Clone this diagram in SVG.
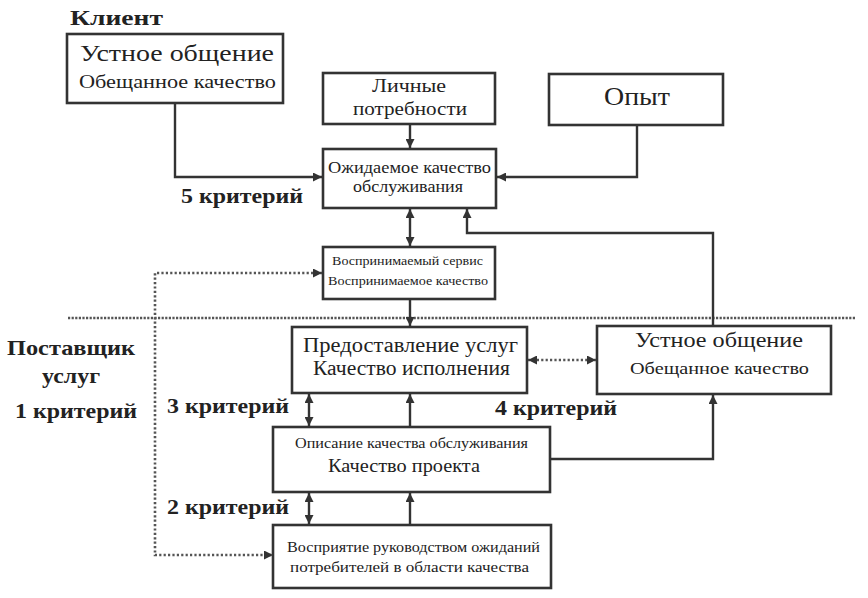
<svg xmlns="http://www.w3.org/2000/svg" width="868" height="598" viewBox="0 0 868 598" font-family="'Liberation Serif', 'DejaVu Serif', 'Times New Roman', serif">
<defs>
<style>
.box{fill:#fff;stroke:#333;stroke-width:2.6}
.ln{fill:none;stroke:#333;stroke-width:2.4}
.dot{fill:none;stroke:#555;stroke-width:2.6;stroke-dasharray:2.2 2.2}
.sep{fill:none;stroke:#555;stroke-width:2.6;stroke-dasharray:2.2 1.4}
text{font-family:'Liberation Serif','DejaVu Serif','Times New Roman',serif;fill:#222}
.b{font-weight:bold}
</style>
<marker id="ah" viewBox="0 0 10 10" refX="10" refY="5" markerWidth="9" markerHeight="9" markerUnits="userSpaceOnUse" orient="auto-start-reverse">
<path d="M0,0 L10,5 L0,10 z" fill="#333"/>
</marker>
<marker id="ahd" viewBox="0 0 10 10" refX="10" refY="5" markerWidth="9" markerHeight="9" markerUnits="userSpaceOnUse" orient="auto-start-reverse">
<path d="M0,0 L10,5 L0,10 z" fill="#333"/>
</marker>
</defs>
<rect width="868" height="598" fill="#fff"/>

<g id="labels">
<text class="b" x="70" y="25" font-size="22" textLength="93" lengthAdjust="spacingAndGlyphs">Клиент</text>
<text class="b" x="181" y="203" font-size="20" textLength="122" lengthAdjust="spacingAndGlyphs">5 критерий</text>
<text class="b" x="7" y="355" font-size="21" textLength="128" lengthAdjust="spacingAndGlyphs">Поставщик</text>
<text class="b" x="42" y="383" font-size="21" textLength="58" lengthAdjust="spacingAndGlyphs">услуг</text>
<text class="b" x="15" y="418" font-size="21" textLength="122" lengthAdjust="spacingAndGlyphs">1 критерий</text>
<text class="b" x="167" y="413" font-size="21" textLength="122" lengthAdjust="spacingAndGlyphs">3 критерий</text>
<text class="b" x="167" y="514" font-size="21" textLength="122" lengthAdjust="spacingAndGlyphs">2 критерий</text>
<text class="b" x="495" y="415" font-size="21" textLength="122" lengthAdjust="spacingAndGlyphs">4 критерий</text>
</g>

<g id="connectors">
<path class="sep" d="M68,318 H856"/>
<path class="ln" d="M175,103 V177 H322" marker-end="url(#ah)"/>
<path class="ln" d="M410,124 V148" marker-end="url(#ah)"/>
<path class="ln" d="M637,125 V177 H497" marker-end="url(#ah)"/>
<path class="ln" d="M410,209 V246" marker-start="url(#ah)" marker-end="url(#ah)"/>
<path class="ln" d="M713,326 V233 H467 V209" marker-end="url(#ah)"/>
<path class="ln" d="M410,300 V326" marker-end="url(#ah)"/>
<path class="ln" d="M309,394 V426" marker-start="url(#ah)" marker-end="url(#ah)"/>
<path class="ln" d="M410,427 V394" marker-end="url(#ah)"/>
<path class="ln" d="M309,493 V524" marker-start="url(#ah)" marker-end="url(#ah)"/>
<path class="ln" d="M410,525 V493" marker-end="url(#ah)"/>
<path class="ln" d="M551,459 H713 V395" marker-end="url(#ah)"/>
<path class="dot" d="M528,360 H596" marker-start="url(#ahd)" marker-end="url(#ahd)"/>
<path class="dot" d="M322,273 H155 V555 H273" marker-start="url(#ahd)" marker-end="url(#ahd)"/>
</g>

<g id="node-client-wom">
<rect class="box" x="67" y="34" width="216" height="69"/>
<text x="80" y="61" font-size="23" textLength="194" lengthAdjust="spacingAndGlyphs">Устное общение</text>
<text x="79" y="88" font-size="18" textLength="197" lengthAdjust="spacingAndGlyphs">Обещанное качество</text>
</g>

<g id="node-needs">
<rect class="box" x="323" y="73" width="172" height="51"/>
<text x="372" y="92" font-size="18" textLength="74" lengthAdjust="spacingAndGlyphs">Личные</text>
<text x="353" y="115" font-size="18" textLength="114" lengthAdjust="spacingAndGlyphs">потребности</text>
</g>

<g id="node-experience">
<rect class="box" x="549" y="74" width="174" height="51"/>
<text x="604" y="105" font-size="25" textLength="66" lengthAdjust="spacingAndGlyphs">Опыт</text>
</g>

<g id="node-expected">
<rect class="box" x="323" y="149" width="173" height="59"/>
<text x="328" y="173" font-size="17" textLength="163" lengthAdjust="spacingAndGlyphs">Ожидаемое качество</text>
<text x="353" y="192" font-size="17" textLength="110" lengthAdjust="spacingAndGlyphs">обслуживания</text>
</g>

<g id="node-perceived">
<rect class="box" x="323" y="247" width="172" height="52"/>
<text x="332" y="265" font-size="13" textLength="151" lengthAdjust="spacingAndGlyphs">Воспринимаемый сервис</text>
<text x="328" y="285" font-size="13" textLength="160" lengthAdjust="spacingAndGlyphs">Воспринимаемое качество</text>
</g>

<g id="node-delivery">
<rect class="box" x="292" y="327" width="235" height="66"/>
<text x="303" y="352" font-size="20" textLength="215" lengthAdjust="spacingAndGlyphs">Предоставление услуг</text>
<text x="313" y="375" font-size="20" textLength="197" lengthAdjust="spacingAndGlyphs">Качество исполнения</text>
</g>

<g id="node-provider-wom">
<rect class="box" x="597" y="326" width="234" height="68"/>
<text x="635" y="347" font-size="21" textLength="168" lengthAdjust="spacingAndGlyphs">Устное общение</text>
<text x="630" y="374" font-size="17" textLength="179" lengthAdjust="spacingAndGlyphs">Обещанное качество</text>
</g>

<g id="node-spec">
<rect class="box" x="273" y="427" width="277" height="65"/>
<text x="295" y="448" font-size="14" textLength="233" lengthAdjust="spacingAndGlyphs">Описание качества обслуживания</text>
<text x="328" y="472" font-size="19" textLength="152" lengthAdjust="spacingAndGlyphs">Качество проекта</text>
</g>

<g id="node-mgmt">
<rect class="box" x="273" y="525" width="278" height="63"/>
<text x="287" y="552" font-size="15" textLength="253" lengthAdjust="spacingAndGlyphs">Восприятие руководством ожиданий</text>
<text x="290" y="572" font-size="15" textLength="239" lengthAdjust="spacingAndGlyphs">потребителей в области качества</text>
</g>
</svg>
